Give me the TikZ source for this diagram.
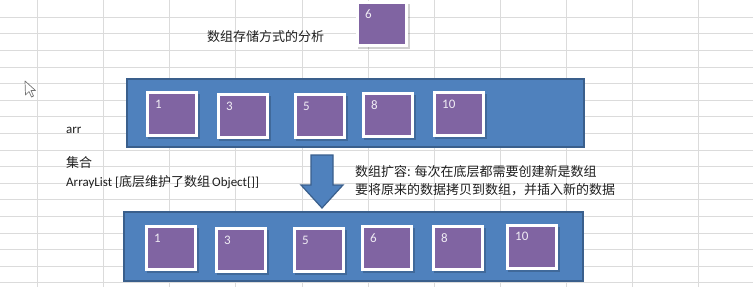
\documentclass[tikz,border=0pt]{standalone}
\usepackage{fontspec}
\setmainfont{Carlito}
\newfontfamily\cjk{Noto Sans CJK SC}
\begin{document}
\begin{tikzpicture}[x=1bp,y=-1bp,
  grid/.style={draw=black!14,line width=0.8bp},
  container/.style={rectangle,draw=blueedge,fill=bluefill,line width=1.6bp,inner sep=0pt},
  cell/.style={rectangle,draw=white,fill=cellfill,line width=3bp,minimum width=49bp,minimum height=43bp,inner sep=0pt},
  shade/.style={fill=black,opacity=0.18},
  lbl/.style={font=\fontsize{13bp}{15bp}\selectfont,text=white!88!cellfill,inner sep=0pt},
  txt/.style={anchor=west,inner sep=0pt,text=black!88,font=\fontsize{13bp}{16bp}\selectfont},
]
\definecolor{bluefill}{HTML}{4F81BD}
\definecolor{blueedge}{HTML}{3A5F8C}
\definecolor{cellfill}{HTML}{8064A2}
\useasboundingbox (0,0) rectangle (753,287);
\fill[white] (0,0) rectangle (753,287);

% worksheet grid
\foreach \k in {1,...,17} \draw[grid] (0,{0.5+16.6*\k}) -- (753,{0.5+16.6*\k});
\foreach \k in {0,...,10} \draw[grid] ({37.7+66.05*\k},0) -- ({37.7+66.05*\k},287);

% mouse pointer
\draw[black!55,fill=white,line width=0.7bp,line join=round]
  (25,81) -- (25.5,95) -- (29,91.5) -- (31.5,97) -- (33.5,96) -- (31,90.5) -- (35.5,90.5) -- cycle;

% texts
\node[txt] (title) at (207,37) {\cjk 数组存储方式的分析};
\node[txt] (arr) at (66,130) {arr};
\node[txt] (coll) at (66,163) {\cjk 集合};
\node[txt] (alist) at (66,182) {ArrayList [{\cjk 底层维护了数组}\,Object[]]};
\node[txt] (grow1) at (355,172) {\cjk 数组扩容: 每次在底层都需要创建新是数组};
\node[txt] (grow2) at (355,190) {\cjk 要将原来的数据拷贝到数组，并插入新的数据};

% containers
\node[container,minimum width=457bp,minimum height=68bp] (old) at (355.5,113) {};
\node[container,minimum width=459bp,minimum height=69bp] (new) at (353.5,246.5) {};

% growth arrow
\draw[blueedge,fill=bluefill,line width=1.2bp,line join=miter]
  (311,155) -- (333,155) -- (333,185) -- (343,185) -- (322,208) -- (301,185) -- (311,185) -- cycle;

% cells
\foreach \n/\v/\x/\y in {
  a1/1/172/114, a3/3/243/116.3, a5/5/320/116.3, a8/8/388/114.7, a10/10/459/114,
  x6/6/382/24,
  b1/1/171/248, b3/3/241/250, b5/5/319/250, b6/6/387/248, b8/8/458/248, b10/10/532/246.7}
{
  \fill[shade] (\x-24.5,\y-20) rectangle (\x+27.5,\y+25);
  \node[cell] (\n) at (\x,\y) {};
  \node[lbl,anchor=west] (\n-v) at ([xshift=9bp,yshift=-13bp]\n.north west) {\v};
}
\end{tikzpicture}
\end{document}
